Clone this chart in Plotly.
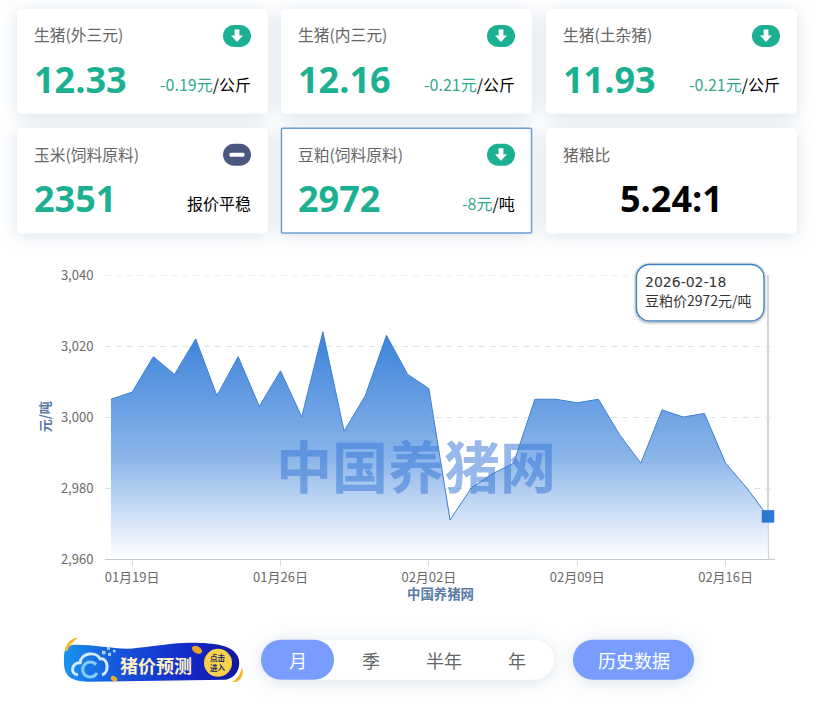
import base64
import plotly.graph_objects as go

# ---- data ----
dates = ["01月18日","01月19日","01月20日","01月21日","01月22日","01月23日","01月24日","01月25日",
         "01月26日","01月27日","01月28日","01月29日","01月30日","01月31日","02月01日","02月02日",
         "02月03日","02月04日","02月05日","02月06日","02月07日","02月08日","02月09日","02月10日",
         "02月11日","02月12日","02月13日","02月14日","02月15日","02月16日","02月17日","02月18日"]
soymeal = [3005,3007,3017,3012,3022,3006,3017,3003,3013,3000,3024,2996,3006,3023,3012,3008,
           2971,2980,2984,2987,3005,3005,3004,3005,2995,2987,3002,3000,3001,2987,2980,2972]
tick_dates = ["01月19日","01月26日","02月02日","02月09日","02月16日"]
y_ticks = [2960,2980,3000,3020,3040]
card_titles = ["生猪(外三元)","生猪(内三元)","生猪(土杂猪)","玉米(饲料原料)","豆粕(饲料原料)","猪粮比"]
card_values = ["12.33","12.16","11.93","2351","2972","5.24:1"]
card_changes = ["-0.19元","-0.21元","-0.21元","","-8元",""]
card_units = ["/公斤","/公斤","/公斤","报价平稳","/吨",""]
ranges = ["月","季","半年","年"]

W, H = 816, 710
L, R, T, B = 105, 775, 274.5, 559
CJK = "Noto Sans CJK SC"
NUM = "Open Sans"
TEAL = "#1bb092"
PILL = "#789dff"

px = lambda x: (x - L) / (R - L)
py = lambda y: (B - y) / (B - T)
shapes, notes = [], []


def rr_path(x0, y0, x1, y1, r):
    p = lambda x, y: f"{px(x):.5f},{py(y):.5f}"
    k = r * 0.448
    return (f"M{p(x0+r,y0)} L{p(x1-r,y0)} C{p(x1-k,y0)} {p(x1,y0+k)} {p(x1,y0+r)} L{p(x1,y1-r)} "
            f"C{p(x1,y1-k)} {p(x1-k,y1)} {p(x1-r,y1)} L{p(x0+r,y1)} C{p(x0+k,y1)} {p(x0,y1-k)} {p(x0,y1-r)} "
            f"L{p(x0,y0+r)} C{p(x0,y0+k)} {p(x0+k,y0)} {p(x0+r,y0)} Z")


def rrect(x0, y0, x1, y1, r, fill, line=None, lw=0, layer="below"):
    shapes.append(dict(type="path", xref="paper", yref="paper", path=rr_path(x0, y0, x1, y1, r),
                       fillcolor=fill, line=dict(color=line or "rgba(0,0,0,0)", width=lw), layer=layer))


def txt(x, y, s, size, color="#666666", anchor="left", weight=400, family=CJK, **kw):
    notes.append(dict(xref="paper", yref="paper", x=px(x), y=py(y), text=s, showarrow=False,
                      xanchor=anchor, yanchor="middle", borderpad=0, borderwidth=0,
                      font=dict(size=size, color=color, family=family, weight=weight), **kw))


def icon(x0, y0, kind):
    x1, y1 = x0 + 28, y0 + 22
    color = TEAL if kind == "down" else "#4a5880"
    rrect(x0, y0, x1, y1, 11, color)
    cx, cy = (x0 + x1) / 2, (y0 + y1) / 2
    if kind == "down":
        pts = [(cx-2.4,cy-6.5),(cx+2.4,cy-6.5),(cx+2.4,cy-0.5),(cx+6,cy-0.5),(cx,cy+6),(cx-6,cy-0.5),(cx-2.4,cy-0.5)]
        path = "M" + " L".join(f"{px(a):.5f},{py(b):.5f}" for a, b in pts) + " Z"
        shapes.append(dict(type="path", xref="paper", yref="paper", path=path, fillcolor="white",
                           line=dict(width=0), layer="below"))
    else:
        rrect(cx - 7.5, cy - 2, cx + 7.5, cy + 2, 1.5, "white")


def data_uri(svg):
    return "data:image/svg+xml;base64," + base64.b64encode(svg.encode()).decode()


# ---- cards ----
boxes = [(17,8,268,113),(281,8,532,113),(546,8,797,113),(17,127,268,233),(281,127,532,233),(546,127,797,233)]
for i, (b, title, val, ch, unit) in enumerate(zip(boxes, card_titles, card_values, card_changes, card_units)):
    x0, y0, x1, y1 = b
    if i == 4:
        rrect(x0 + .5, y0 + .5, x1 - .5, y1 - .5, 1, "white", "#6a9fd4", 1.5)
    else:
        rrect(x0, y0, x1, y1, 5, "white")
    txt(x0 + 17, y0 + 26 + (1 if i > 2 else 0), title, 15.75, "#666666")
    if i < 5:
        txt(x0 + 17, y0 + 71, val, 36, TEAL, weight=700, family=NUM)
        label = (f'<span style="color:#35a892">{ch}</span>{unit}' if ch else unit)
        txt(x1 - 17, y0 + 75, label, 16, "#000000", anchor="right")
        icon(x1 - 45, y0 + 16, "down" if ch else "flat")
    else:
        txt((x0 + x1) / 2, y0 + 71, val, 36, "#000000", anchor="center", weight=700, family=NUM)

# ---- soft page shadows behind cards and buttons ----
soft = "".join(f"<rect x='{a}' y='{c}' width='{e-a}' height='{d-c}' rx='5'/>" for a, c, e, d in boxes)
soft += "<rect x='261' y='640' width='293' height='40' rx='20'/><rect x='573' y='640' width='121' height='40' rx='20'/>"
shadow_svg = (f"<svg xmlns='http://www.w3.org/2000/svg' width='{W}' height='{H}' viewBox='0 0 {W} {H}'>"
              "<defs><filter id='b' x='-10%' y='-10%' width='120%' height='120%'><feGaussianBlur stdDeviation='9'/></filter></defs>"
              f"<g fill='rgb(100,130,170)' fill-opacity='0.25' filter='url(#b)' transform='translate(0,2)'>{soft}</g></svg>")

# ---- tooltip and watermark ----
for s, a in [(3, 0.06), (2, 0.10), (1, 0.14)]:
    rrect(636 - s, 263.5 - s + 1, 764 + s, 320.5 + s + 1, 13 + s, f"rgba(40,60,90,{a})", layer="above")
rrect(636.5, 264, 764, 320.5, 13, "white", "#3c82c4", 1.3, layer="above")
txt(645, 281.5, "2026-02-18", 14, "#333333", family="DejaVu Sans")
txt(645, 299.5, f"豆粕价{soymeal[-1]}元/吨", 14, "#333333")
txt(416, 463, "中国养猪网", 56, "rgba(55,118,215,0.52)", anchor="center", weight=700)
txt(440, 593.5, "中国养猪网", 13.4, "#587ba5", anchor="center", weight=700)
txt(44, 417, "元/吨", 13, "#587ba5", anchor="center", weight=700, textangle=-90)

# ---- bottom controls ----
banner = """<svg xmlns='http://www.w3.org/2000/svg' width='185' height='56' viewBox='0 0 185 56'>
<defs><linearGradient id='g' x1='0' x2='1' y1='0' y2='0'><stop offset='0' stop-color='#1a94f0'/>
<stop offset='.3' stop-color='#1656dc'/><stop offset='.72' stop-color='#1428c6'/><stop offset='1' stop-color='#10189c'/></linearGradient></defs>
<path d='M4 20 C5 12 10 10 15 10 C40 10 60 16 78 13 C100 11 115 8 128 8 C150 8 172 9 178 22 C182 32 176 44 165 45 L30 47 C15 47 5 44 4 30 Z' fill='url(#g)'/>
<path d='M5 15 C6 9 11 3 18 3 C13 7 9 11 7 17 Z' fill='#f6b92b'/>
<path d='M172 47 C177 45 180 40 182 33 C185 40 180 49 172 47 Z' fill='#f6b92b'/>
<ellipse cx='137' cy='15' rx='5.5' ry='3.5' fill='#e9a22a' transform='rotate(30 137 15)'/>
<ellipse cx='54' cy='44' rx='3.5' ry='2.5' fill='#f1ac2b' transform='rotate(35 54 44)'/>
<path d='M18 40 C10 40 11 28 20 28 C21 18 36 16 40 24 C48 22 50 38 42 40' fill='none' stroke='#d4ebff' stroke-width='3'/>
<path d='M36 30 A7.5 7.5 0 1 0 37 38' fill='none' stroke='#86ccff' stroke-width='3'/>
<rect x='42' y='16' width='3.5' height='3.5' fill='#a6d8ff'/><rect x='47' y='12' width='3' height='3' fill='#a6d8ff'/>
<rect x='48' y='18' width='3' height='3' fill='#a6d8ff'/><rect x='53' y='15' width='2.5' height='2.5' fill='#a6d8ff'/>
<circle cx='158' cy='28' r='14' fill='#f7d24a'/></svg>"""
images = [
    dict(source=data_uri(shadow_svg), xref="paper", yref="paper", x=px(0), y=py(0), sizex=W / (R - L), sizey=H / (B - T),
         xanchor="left", yanchor="top", sizing="stretch", layer="below"),
    dict(source=data_uri(banner), xref="paper", yref="paper", x=px(60), y=py(635), sizex=185 / (R - L), sizey=56 / (B - T),
         xanchor="left", yanchor="top", sizing="stretch", layer="below"),
]
txt(156, 665, "猪价预测", 18, "#fdf1c8", anchor="center", weight=700)
txt(218, 663, "点击<br>进入", 7.5, "#1f2a70", anchor="center", weight=700)

rrect(261, 640, 554, 680, 20, "white")
rrect(261, 640, 334, 680, 20, PILL)
for x, label, c in zip([297.5, 371, 444, 517], ranges, ["white", "#666666", "#666666", "#666666"]):
    txt(x, 660, label, 18, c, anchor="center")
rrect(573, 640, 694, 680, 20, PILL)
txt(633.5, 660, "历史数据", 18, "white", anchor="center")

# ---- crosshair and top gridline ----
shapes.append(dict(type="line", xref="x", yref="paper", x0=dates[-1], x1=dates[-1], y0=0, y1=1,
                   line=dict(color="#d2d4d8", width=2), layer="below"))
shapes.append(dict(type="line", xref="paper", yref="y", x0=0, x1=1, y0=y_ticks[-1], y1=y_ticks[-1],
                   line=dict(color="#e0e2e6", width=1, dash="6px,5px"), layer="below"))

fig = go.Figure()
fig.add_trace(go.Scatter(
    x=dates, y=soymeal, mode="lines", line=dict(color="#3f7fd0", width=1), fill="tozeroy",
    fillgradient=dict(type="vertical", start=max(soymeal), stop=y_ticks[0],
                      colorscale=[[0, "rgba(45,122,215,0.94)"], [0.55, "rgba(130,175,232,0.93)"], [1, "rgba(255,255,255,0.9)"]]),
    hoverinfo="skip", showlegend=False))
fig.add_trace(go.Scatter(x=dates[-1:], y=soymeal[-1:], mode="markers",
                         marker=dict(symbol="square", size=12.5, color="#2b78d4"),
                         hoverinfo="skip", showlegend=False, cliponaxis=False))

fig.update_layout(
    width=W, height=H, autosize=False, paper_bgcolor="white", plot_bgcolor="rgba(0,0,0,0)",
    margin=dict(l=L, r=W - R, t=T, b=H - B, pad=0), shapes=shapes, annotations=notes, images=images,
    font=dict(family=CJK, color="#666666", size=13), showlegend=False,
    xaxis=dict(type="category", categoryorder="array", categoryarray=dates, range=[-0.28, len(dates) - 1 + 0.33],
               tickmode="array", tickvals=tick_dates, ticktext=tick_dates, ticks="outside", ticklen=6,
               tickcolor="#d5dbe6", tickwidth=1, showgrid=False, showline=True, linecolor="#c3cbda", linewidth=1,
               zeroline=False, tickfont=dict(size=13, color="#6a6a6a", family=CJK), fixedrange=True),
    yaxis=dict(range=[y_ticks[0], y_ticks[-1]], tickmode="array", tickvals=y_ticks, tickformat=",",
               ticks="outside", ticklen=8, tickcolor="rgba(0,0,0,0)", showgrid=True, gridcolor="#e0e2e6",
               griddash="6px,5px", gridwidth=1, zeroline=False, showline=False,
               tickfont=dict(size=13, color="#6a6a6a", family=CJK), fixedrange=True),
)
fig.write_html("out.html", config=dict(displayModeBar=False),
               post_script="document.body.style.margin='0';document.body.style.overflow='hidden';")
